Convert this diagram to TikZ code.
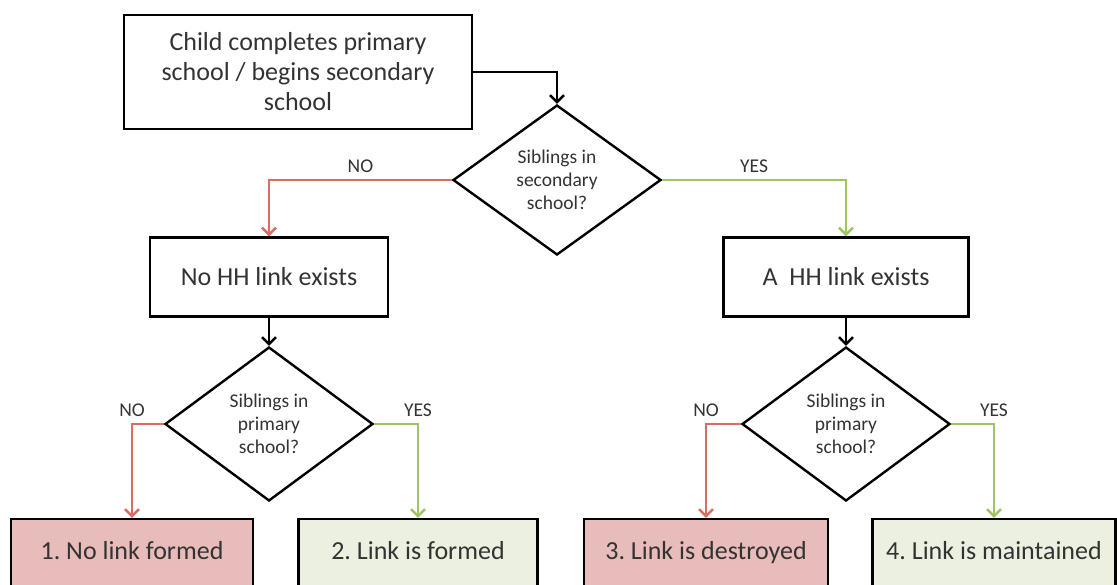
\documentclass[tikz,border=0pt]{standalone}
\usepackage{fontspec}
\setmainfont{Carlito}
\usetikzlibrary{arrows.meta, positioning, shapes.geometric}

\definecolor{nored}{RGB}{218,108,98}
\definecolor{yesgreen}{RGB}{160,196,98}
\definecolor{redfill}{RGB}{231,188,186}
\definecolor{greenfill}{RGB}{236,240,224}

\frenchspacing

\begin{document}
\begin{tikzpicture}[
    x=1pt, y=-1pt,
    every node/.style={text=black!80},
    box/.style={rectangle, draw=black, line width=2.4pt, minimum height=79pt, align=center, font=\fontsize{26}{30}\selectfont},
    result/.style={box, minimum height=68pt, text height=18pt, text depth=6pt},
    ask/.style={diamond, draw=black, line width=2.4pt, minimum width=208pt, minimum height=150pt, inner sep=1pt, align=center, font=\fontsize{19.5}{23}\selectfont},
    lbl/.style={font=\fontsize{19.5}{23}\selectfont, above=3pt},
    go/.style={draw=black, line width=2.4pt, -{Straight Barb[length=7pt,width=14pt]}},
    nogo/.style={go, draw=nored},
    yesgo/.style={go, draw=yesgreen}
]

\useasboundingbox (0,0) rectangle (1117,585);

\node[box, minimum width=348pt, minimum height=114pt] (start) at (298,72) {Child completes primary\\school / begins secondary\\school};

\node[ask] (sec) at (557,180) {Siblings in\\secondary\\school?};

\node[box, minimum width=238pt] (nohh) at (269,277) {No HH link exists};
\node[box, minimum width=245pt] (hh) at (846,277) {A~ HH link exists};

\node[ask, minimum height=154pt] (prinohh) at (269,424) {Siblings in\\primary\\school?};
\node[ask, minimum height=154pt] (prihh) at (846,424) {Siblings in\\primary\\school?};

\node[result, fill=redfill, minimum width=242pt] (res1) at (132,553) {1. No link formed};
\node[result, fill=greenfill, minimum width=239pt] (res2) at (418,553) {2. Link is formed};
\node[result, fill=redfill, minimum width=244pt] (res3) at (706,553) {3. Link is destroyed};
\node[result, fill=greenfill, minimum width=243pt] (res4) at (994,553) {4. Link is maintained};

\draw[go] (start.east) -| (sec.north);

\draw[nogo] (sec.west) -| node[lbl, pos=0.25] {NO} (nohh.north);
\draw[yesgo] (sec.east) -| node[lbl, pos=0.25] {YES} (hh.north);

\draw[go] (nohh.south) -- (prinohh.north);
\draw[go] (hh.south) -- (prihh.north);

\draw[nogo] (prinohh.west) -| node[lbl, pos=0.5] {NO} (res1.north);
\draw[yesgo] (prinohh.east) -| node[lbl, pos=0.5] {YES} (res2.north);

\draw[nogo] (prihh.west) -| node[lbl, pos=0.5] {NO} (res3.north);
\draw[yesgo] (prihh.east) -| node[lbl, pos=0.5] {YES} (res4.north);

\end{tikzpicture}
\end{document}
